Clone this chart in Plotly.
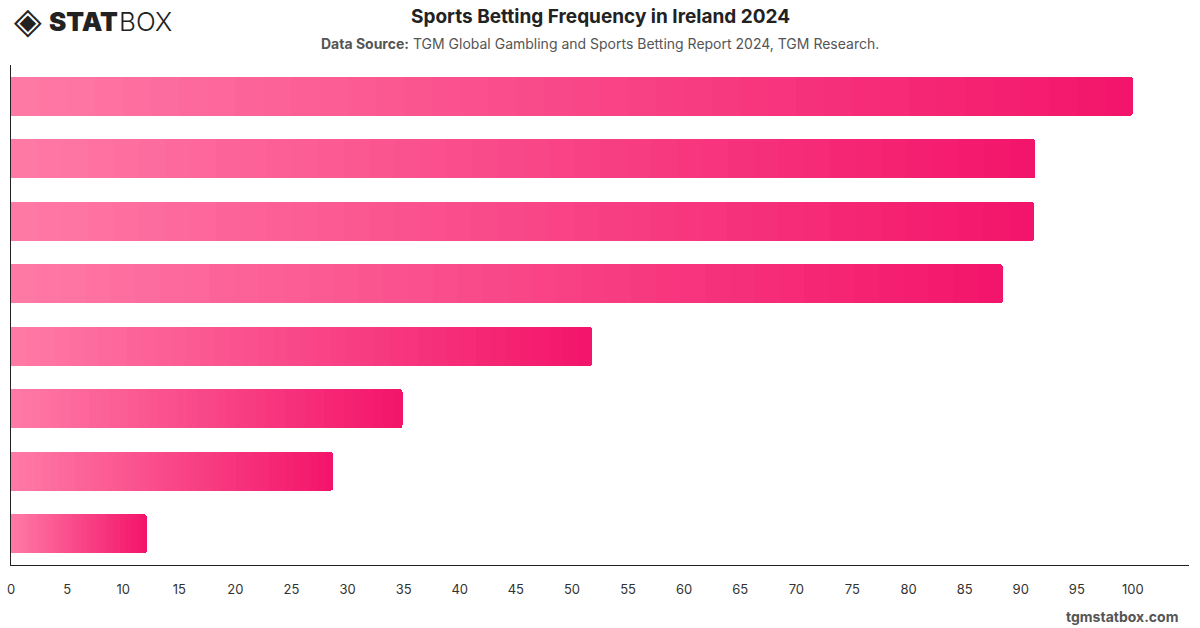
import numpy as np
import plotly.graph_objects as go

# Data
categories = ["1", "2", "3", "4", "5", "6", "7", "8"]   # category labels are not shown in the reference
values = [100.0, 91.3, 91.2, 88.4, 51.8, 34.9, 28.7, 12.1]
x_ticks = list(range(0, 101, 5))

title_text = "Sports Betting Frequency in Ireland 2024"
source_text = "<b>Data Source:</b> TGM Global Gambling and Sports Betting Report 2024, TGM Research."

color_left = (255, 122, 166)
color_right = (243, 20, 106)
x_max = 105.0
n_steps = 40   # gradient steps per bar

ML, MR, MT, MB = 11, 11, 65, 63
W, H = 1200, 628
plot_h = H - MT - MB
plot_w = W - ML - MR

def py(px_from_top):
    return (H - MB - px_from_top) / plot_h
def px(px_from_left):
    return (px_from_left - ML) / plot_w

fig = go.Figure()
vals = np.array(values)
for k in range(n_steps):
    t = (k + 0.5) / n_steps
    c = tuple(int(round(a + (b - a) * t)) for a, b in zip(color_left, color_right))
    fig.add_trace(go.Bar(
        y=categories, x=vals / n_steps, orientation="h",
        marker=dict(color="rgb(%d,%d,%d)" % c, line=dict(width=0)),
        hoverinfo="skip", showlegend=False,
    ))

def ann(text, x, y, xanchor, size, color, family="Inter, sans-serif", weight=None):
    f = dict(size=size, color=color, family=family)
    if weight is not None:
        f["weight"] = weight
    return dict(text=text, x=px(x), y=py(y), xref="paper", yref="paper",
                xanchor=xanchor, yanchor="middle", showarrow=False, font=f)

fig.update_layout(
    width=W, height=H,
    margin=dict(l=ML, r=MR, t=MT, b=MB, pad=0),
    paper_bgcolor="white", plot_bgcolor="white",
    font=dict(family="Inter, Roboto, sans-serif", color="#333"),
    showlegend=False,
    barmode="stack", bargap=0.376, barcornerradius=3,
    xaxis=dict(range=[0, x_max], tickvals=x_ticks, showgrid=False, zeroline=False,
               showline=True, linecolor="#222", linewidth=1, ticks="",
               ticklabelstandoff=12, automargin=False,
               tickfont=dict(size=13, color="#333"), fixedrange=True),
    yaxis=dict(categoryorder="array", categoryarray=categories[::-1],
               showgrid=False, zeroline=False,
               showline=True, linecolor="#222", linewidth=1, showticklabels=False,
               ticks="", automargin=False, fixedrange=True),
    annotations=[
        ann("<b>" + title_text + "</b>", 600, 17, "center", 19, "#222"),
        ann(source_text, 600, 44, "center", 14, "#555"),
        ann("<b>tgmstatbox.com</b>", 1180, 616, "right", 14, "#555"),
        ann("◈", 12, 21, "left", 36, "#222", family="DejaVu Sans"),
        ann("STAT", 47, 22, "left", 26, "#222", weight=900),
        ann("BOX", 117, 22, "left", 26, "#222", weight=300),
    ],
)

fig.write_html("out.html")
